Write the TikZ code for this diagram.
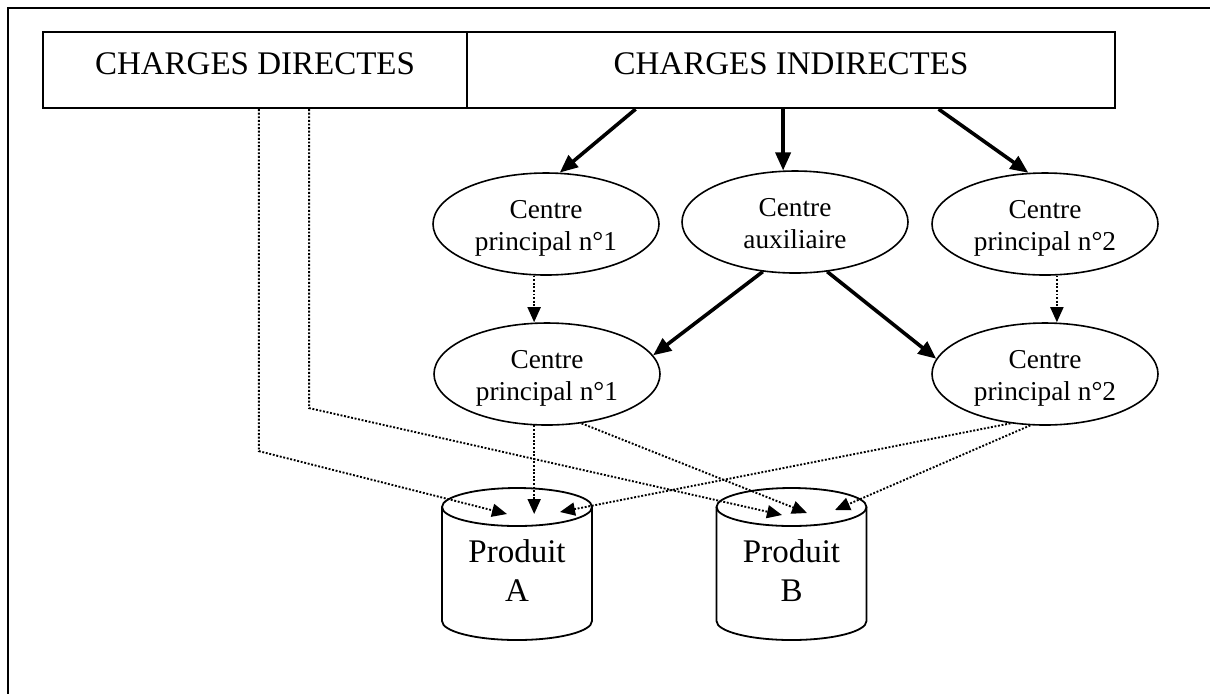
\documentclass[tikz,border=0pt]{standalone}
\usepackage{fontspec}
\setmainfont{Liberation Serif}
\usetikzlibrary{arrows.meta,calc,shapes.geometric}

% cylinder drawn around a product label node
\newcommand{\prodcyl}[1]{%
  \draw[cyl] ($(#1)+(-75,-64)$) -- ($(#1)+(-75,50)$)
    arc[start angle=180,end angle=360,x radius=37.5pt,y radius=9.5pt]
    -- ($(#1)+(75,-64)$);
  \draw[cyl] ($(#1)+(0,-64)$) ellipse[x radius=37.5pt,y radius=9.5pt];}

\begin{document}
\begin{tikzpicture}[x=0.5pt,y=-0.5pt,
  frame/.style={line width=1.2pt},
  hdr/.style={draw,line width=1.1pt,minimum height=38pt,inner sep=0pt,
    font=\fontsize{16.5}{19}\selectfont,text height=11pt,text depth=7pt},
  centre/.style={draw,ellipse,line width=0.8pt,minimum width=113pt,
    minimum height=51pt,inner sep=0pt,align=center,
    font=\fontsize{13.65}{16}\selectfont,text height=29pt,text depth=3pt},
  prod/.style={align=center,font=\fontsize{16.5}{19.5}\selectfont,inner sep=0pt},
  cyl/.style={line width=0.9pt},
  flow/.style={line width=1.8pt,-{Triangle[length=9pt,width=7.5pt]}},
  share/.style={line width=0.95pt,dash pattern=on 0.95pt off 0.85pt,
    -{Triangle[length=7.5pt,width=6.5pt]}},
]
\useasboundingbox (0,0) rectangle (1210,693);
\fill[white] (0,0) rectangle (1210,693);
\draw[frame] (8,710) -- (8,8) -- (1220,8);

% cost headers
\node[hdr,minimum width=212pt] (dir) at (255,70) {CHARGES DIRECTES};
\node[hdr,minimum width=324pt] (ind) at (791,70) {CHARGES INDIRECTES};

% analysis centres
\node[centre] (cp1a) at (546,224) {Centre\\principal n°1};
\node[centre] (aux)  at (795,222) {Centre\\auxiliaire};
\node[centre] (cp2a) at (1045,224) {Centre\\principal n°2};
\node[centre] (cp1b) at (547,374) {Centre\\principal n°1};
\node[centre] (cp2b) at (1045,374) {Centre\\principal n°2};

% products
\node[prod] (pa) at (517,571) {Produit\\A};
\node[prod] (pb) at (791.5,571) {Produit\\B};
\prodcyl{pa}
\prodcyl{pb}

\coordinate (pa-l) at (507,514);
\coordinate (pa-r) at (560,512);
\coordinate (pb-l) at (782,515);
\coordinate (pb-m) at (807,513);
\coordinate (pb-r) at (835,510);

% primary distribution
\draw[flow] ($(ind.south west)!0.261!(ind.south east)$) -- (cp1a.75);
\draw[flow] (aux.103 |- ind.south) -- (aux.103);
\draw[flow] ($(ind.south west)!0.727!(ind.south east)$) -- (cp2a.108);

% secondary distribution
\draw[flow] (aux.237) -- (cp1b.10);
\draw[flow] (aux.303) -- (cp2b.172);
\draw[share] (cp1a.257) -- (cp1a.257 |- cp1b.north);
\draw[share] (cp2a.283) -- (cp2a.283 |- cp2b.north);

% direct charges
\draw[share] ($(dir.south west)!0.509!(dir.south east)$) -- ++(0,342) -- (pa-l);
\draw[share] ($(dir.south west)!0.627!(dir.south east)$) -- ++(0,299) -- (pb-l);

% imputation to products
\draw[share] (cp1b.256) -- (cp1b.256 |- pa-l);
\draw[share] (cp1b.305) -- (pb-m);
\draw[share] (cp2b.235) -- (pa-r);
\draw[share] (cp2b.254) -- (pb-r);
\end{tikzpicture}
\end{document}
